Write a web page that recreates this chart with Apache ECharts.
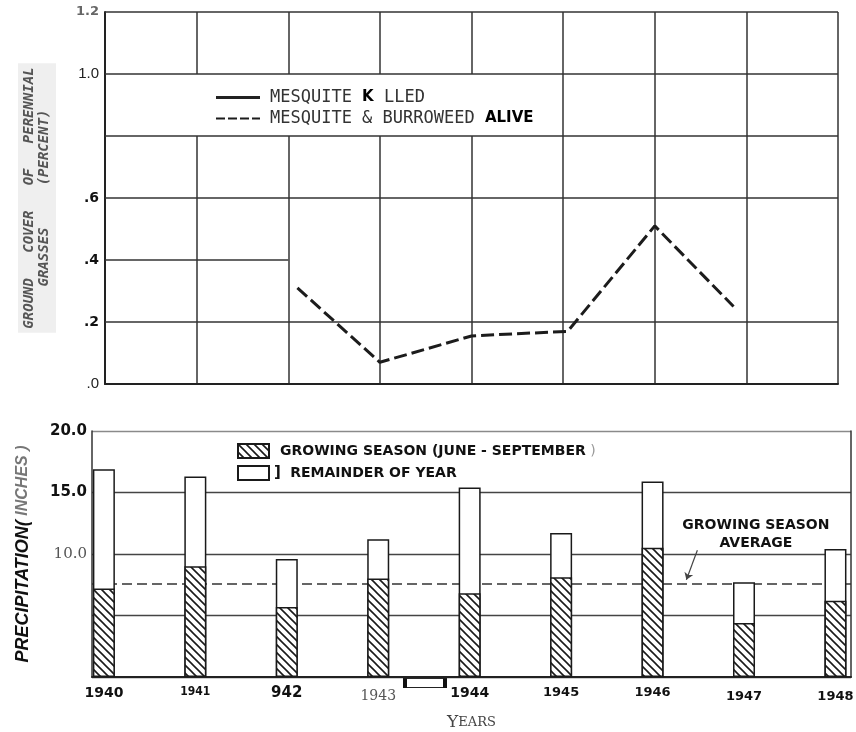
<!DOCTYPE html>
<html><head><meta charset="utf-8">
<script src="https://cdn.jsdelivr.net/npm/echarts@6/dist/echarts.min.js"></script>
<style>html,body{margin:0;padding:0;background:#fff}#c{width:856px;height:732px}</style>
</head><body><div id="c"></div>
<script>
// ---------- Top panel: ground cover of perennial grasses (percent) ----------
const coverYears = [1942.1, 1943, 1944, 1945.05, 1946, 1946.86];
const coverAlive = [0.31, 0.07, 0.155, 0.17, 0.51, 0.25];
const coverKilled = [];
const coverTickLabels = {'0': '.0', '0.2': '.2', '0.4': '.4', '0.6': '.6', '0.8': '', '1': '1.0', '1.2': '1.2'};
const KILLED = 'MESQUITE K LLED';
const ALIVE = 'MESQUITE & BURROWEED ALIVE';

// ---------- Bottom panel: precipitation (inches) ----------
const years = [1940, 1941, 1942, 1943, 1944, 1945, 1946, 1947, 1948];
const yearLabels = ['1940', '1941', '942', '1943', '1944', '1945', '1946', '1947', '1948'];
const growing = [7.2, 9.0, 5.7, 8.0, 6.8, 8.1, 10.5, 4.4, 6.2];
const remainder = [9.7, 7.3, 3.9, 3.2, 8.6, 3.6, 5.4, 3.3, 4.2];
const growingAverage = 7.6;
const precipTickLabels = {'0': '', '5': '', '10': '10.0', '15': '15.0', '20': '20.0'};
const GROW = 'GROWING SEASON (JUNE - SEPTEMBER)';
const REM = 'REMAINDER OF YEAR';

// styles (kept apart from data)
const coverTickStyle = {'0': 'n', '0.2': 'b', '0.4': 'b', '0.6': 'b', '0.8': 'b', '1': 'n', '1.2': 'g'};
const precipTickStyle = {'0': 'b', '5': 'b', '10': 's', '15': 'b', '20': 'b'};
const yearLabelStyle = ['b14', 'c12', 'b15', 'sf', 'b14', 'b13', 'b13', 'b13l', 'b13l'];

// yearly totals = growing season + remainder (white bar drawn behind the hatched part)
const totals = growing.map((g, i) => g + remainder[i]);

function hatch() {
  const c = document.createElement('canvas');
  c.width = 8; c.height = 8;
  const g = c.getContext('2d');
  g.fillStyle = '#fff'; g.fillRect(0, 0, 8, 8);
  g.strokeStyle = '#1a1a1a'; g.lineWidth = 1.6;
  g.beginPath();
  g.moveTo(-2, -2); g.lineTo(10, 10);
  g.moveTo(-2, 6); g.lineTo(2, 10);
  g.moveTo(6, -2); g.lineTo(10, 2);
  g.stroke();
  return c;
}
const hatchPattern = {image: hatch(), repeat: 'repeat'};

const SANS = "'DejaVu Sans', sans-serif";
const MONO = "'DejaVu Sans Mono', monospace";
const chart = echarts.init(document.getElementById('c'), null, {renderer: 'canvas'});

const option = {
  backgroundColor: '#fff',
  animation: false,
  grid: [
    {left: 105, right: 18, top: 12, bottom: 348, outerBoundsMode: 'none', containLabel: false},
    {left: 92, right: 5, top: 431, bottom: 55, outerBoundsMode: 'none', containLabel: false}
  ],
  legend: [
    {
      data: [
        {name: KILLED, icon: 'rect'},
        {name: ALIVE, icon: 'path://M0 0h9v2h-9zM12 0h9v2h-9zM24 0h9v2h-9zM36 0h8v2h-8z'}
      ],
      orient: 'vertical', left: 216, top: 89, padding: 0,
      itemWidth: 44, itemHeight: 3, itemGap: 4, selectedMode: false,
      formatter: n => n === KILLED ? '{a|MESQUITE }{k|K}{a| LLED}' : '{a|MESQUITE & BURROWEED }{k|ALIVE}',
      textStyle: {
        padding: [0, 0, 0, 5],
        rich: {
          a: {fontFamily: MONO, fontSize: 17, color: '#333', lineHeight: 18},
          k: {fontFamily: SANS, fontSize: 15, fontWeight: 'bold', color: '#000', lineHeight: 18}
        }
      }
    },
    {
      data: [GROW, REM], orient: 'vertical', left: 237, top: 443, padding: 0,
      itemWidth: 31, itemHeight: 14, itemGap: 6, icon: 'rect', selectedMode: false,
      formatter: n => n === GROW ? '{t|GROWING SEASON (JUNE - SEPTEMBER}{g| )}' : '{p|]} {t|REMAINDER OF YEAR}',
      textStyle: {
        rich: {
          t: {fontFamily: SANS, fontSize: 14, fontWeight: 'bold', color: '#111', padding: [0, 0, 0, 6]},
          g: {fontFamily: SANS, fontSize: 14, color: '#999'},
          p: {fontFamily: SANS, fontSize: 15, fontWeight: 'bold', color: '#111'}
        }
      }
    }
  ],
  xAxis: [
    {
      gridIndex: 0, type: 'value', min: 1940, max: 1948, interval: 1,
      axisLine: {show: true, onZero: false, lineStyle: {color: '#222', width: 2}},
      axisTick: {show: false}, axisLabel: {show: false},
      splitLine: {show: true, lineStyle: {color: '#333', width: 1.5}}
    },
    {
      gridIndex: 1, type: 'value', min: 1939.87, max: 1948.17,
      axisLine: {show: true, onZero: false, lineStyle: {color: '#222', width: 2}},
      axisTick: {show: false}, splitLine: {show: false},
      axisLabel: {
        show: true, customValues: years, margin: 9, hideOverlap: false,
        formatter: v => {
          const i = years.indexOf(Math.round(v));
          return i < 0 ? '' : '{' + yearLabelStyle[i] + '|' + yearLabels[i] + '}';
        },
        rich: {
          b14: {fontFamily: SANS, fontSize: 14, fontWeight: 'bold', color: '#111'},
          b15: {fontFamily: SANS, fontSize: 15, fontWeight: 'bold', color: '#111'},
          b13: {fontFamily: SANS, fontSize: 13, fontWeight: 'bold', color: '#111'},
          b13l: {fontFamily: SANS, fontSize: 13, fontWeight: 'bold', color: '#111', padding: [4, 0, 0, 0]},
          c12: {fontFamily: "'DejaVu Sans Condensed','Liberation Sans Narrow',sans-serif", fontSize: 12, fontWeight: 'bold', color: '#111'},
          sf: {fontFamily: "'DejaVu Serif', serif", fontSize: 14, color: '#555', padding: [3, 0, 0, 0]}
        }
      },
      name: '{y|Y}{e|EARS}', nameLocation: 'middle', nameGap: 37, nameMoveOverlap: false,
      nameTextStyle: {
        rich: {
          y: {fontFamily: "'DejaVu Serif', serif", fontSize: 17, color: '#444'},
          e: {fontFamily: "'DejaVu Serif', serif", fontSize: 13, color: '#444'}
        }
      }
    }
  ],
  yAxis: [
    {
      gridIndex: 0, type: 'value', min: 0, max: 1.2, interval: 0.2,
      axisLine: {show: true, lineStyle: {color: '#222', width: 2}},
      axisTick: {show: false}, splitLine: {show: false},
      axisLabel: {
        margin: 6,
        formatter: v => {
          const k = String(Math.round(v * 10) / 10);
          const t = coverTickLabels[k];
          return t ? '{' + coverTickStyle[k] + '|' + t + '}' : '';
        },
        rich: {
          n: {fontFamily: "'Liberation Sans', sans-serif", fontSize: 15, color: '#222'},
          b: {fontFamily: SANS, fontSize: 14, fontWeight: 'bold', color: '#111'},
          g: {fontFamily: SANS, fontSize: 13, fontWeight: 'bold', color: '#666'}
        }
      },
      name: 'GROUND   COVER   OF   PERENNIAL\nGRASSES     (PERCENT)',
      nameLocation: 'middle', nameRotate: 90, nameGap: 49, nameMoveOverlap: false,
      nameTextStyle: {
        fontFamily: MONO, fontStyle: 'italic', fontWeight: 'bold',
        fontSize: 14, lineHeight: 15, color: '#555', backgroundColor: '#efefef', padding: [4, 4]
      }
    },
    {
      gridIndex: 1, type: 'value', min: 0, max: 20, interval: 5,
      axisLine: {show: true, lineStyle: {color: '#333', width: 1.5}},
      axisTick: {show: false},
      splitLine: {show: true, lineStyle: {color: ['#444', '#444', '#444', '#444', '#8a8a8a'], width: 1.3}},
      axisLabel: {
        margin: 5,
        formatter: v => {
          const k = String(Math.round(v));
          const t = precipTickLabels[k];
          return t ? '{' + precipTickStyle[k] + '|' + t + '}' : '';
        },
        rich: {
          b: {fontFamily: SANS, fontSize: 15, fontWeight: 'bold', color: '#111'},
          s: {fontFamily: "'DejaVu Serif', serif", fontSize: 15, color: '#555'}
        }
      },
      name: '{a|PRECIPITATION(}{b| INCHES )}', nameLocation: 'middle', nameRotate: 90, nameGap: 60, nameMoveOverlap: false,
      nameTextStyle: {
        rich: {
          a: {fontFamily: "'Liberation Sans', sans-serif", fontSize: 18, fontWeight: 'bold', fontStyle: 'italic', color: '#111'},
          b: {fontFamily: "'Liberation Sans', sans-serif", fontSize: 16, fontWeight: 'bold', fontStyle: 'italic', color: '#777'}
        }
      }
    },
    {
      gridIndex: 1, type: 'value', min: 0, max: 20, position: 'right',
      axisLine: {show: true, lineStyle: {color: '#333', width: 1.5}},
      axisTick: {show: false}, axisLabel: {show: false}, splitLine: {show: false}
    }
  ],
  series: [
    {
      name: KILLED, type: 'line', xAxisIndex: 0, yAxisIndex: 0, z: 3,
      data: coverKilled, symbol: 'none', showSymbol: false,
      itemStyle: {color: '#222'},
      lineStyle: {color: '#222', width: 2, type: 'solid'}
    },
    {
      name: ALIVE, type: 'line', xAxisIndex: 0, yAxisIndex: 0, z: 3,
      data: coverYears.map((x, i) => [x, coverAlive[i]]),
      symbol: 'none', showSymbol: false,
      itemStyle: {color: '#1c1c1c'},
      lineStyle: {color: '#1c1c1c', width: 3, type: [13, 5]},
      markLine: {
        silent: true, symbol: 'none', z: 2, label: {show: false},
        lineStyle: {color: '#333', width: 1.5, type: 'solid'},
        emphasis: {disabled: true},
        data: [
          {yAxis: 0.2}, {yAxis: 0.6}, {yAxis: 0.8}, {yAxis: 1.0}, {yAxis: 1.2},
          [{coord: [1940, 0.4]}, {coord: [1942, 0.4]}]
        ]
      },
      markArea: {
        silent: true, z: 1, itemStyle: {color: '#fff'},
        data: [[{coord: [1940.97, 0.8]}, {coord: [1944.97, 1.0]}]]
      }
    },
    {
      name: REM, type: 'bar', xAxisIndex: 1, yAxisIndex: 1, barWidth: 22, barGap: '-100%', z: 2,
      data: years.map((y, i) => [y, totals[i]]),
      itemStyle: {color: '#fff', borderColor: '#1a1a1a', borderWidth: 1.5}
    },
    {
      name: GROW, type: 'bar', xAxisIndex: 1, yAxisIndex: 1, barWidth: 22, barGap: '-100%', z: 3,
      data: years.map((y, i) => [y, growing[i]]),
      itemStyle: {color: hatchPattern, borderColor: '#1a1a1a', borderWidth: 1.5}
    },
    {
      name: 'avg', type: 'line', xAxisIndex: 1, yAxisIndex: 1, data: [], z: 1,
      markLine: {
        silent: true, symbol: 'none', z: 1, label: {show: false},
        lineStyle: {color: '#333', width: 1.5, type: [10, 5]},
        data: [
          {yAxis: growingAverage},
          [{coord: [1946.49, 10.3], symbol: 'none'},
           {coord: [1946.37, 7.9], symbol: 'arrow', symbolSize: 7,
            lineStyle: {type: 'solid', width: 1.2, curveness: -0.4, color: '#444'}}]
        ]
      },
      markPoint: {
        silent: true, symbol: 'circle', symbolSize: 1,
        itemStyle: {color: 'rgba(0,0,0,0)'},
        label: {show: true, position: 'inside', formatter: 'GROWING SEASON\nAVERAGE',
          fontFamily: SANS, fontSize: 14, fontWeight: 'bold', lineHeight: 18, color: '#111', align: 'center'},
        data: [{coord: [1947.13, 11.6]}]
      }
    }
  ],
  graphic: [
    {type: 'rect', left: 404, top: 678, shape: {width: 42, height: 9}, style: {fill: '#fff', stroke: '#222', lineWidth: 1}},
    {type: 'rect', left: 403, top: 677, shape: {width: 4, height: 11}, style: {fill: '#111'}},
    {type: 'rect', left: 443, top: 677, shape: {width: 4, height: 11}, style: {fill: '#111'}}
  ]
};
chart.setOption(option);
</script>
</body></html>
